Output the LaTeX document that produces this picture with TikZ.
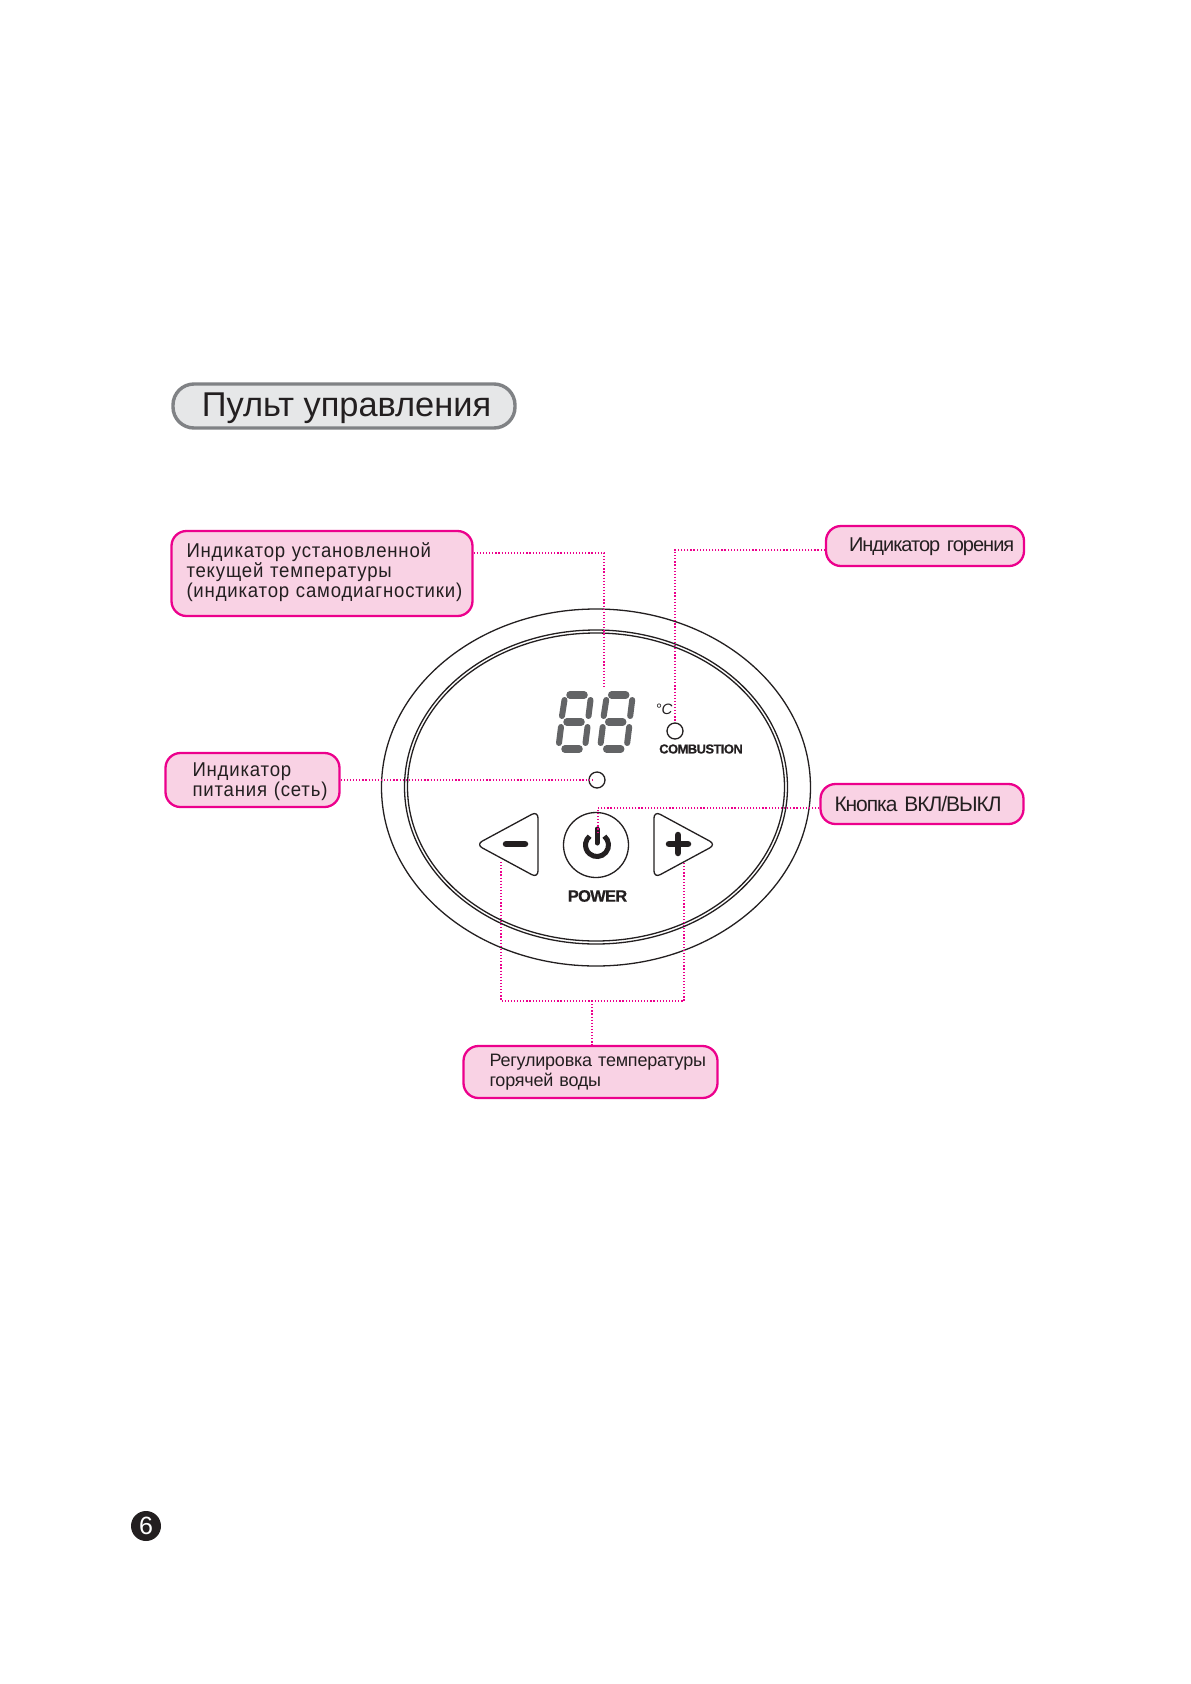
\documentclass[tikz,border=0pt]{standalone}
\usepackage{fontspec}
\setmainfont{Liberation Sans}
\newfontfamily\widelbl[FakeStretch=0.93, LetterSpace=4]{Liberation Sans}
\newfontfamily\tightlbl[LetterSpace=-5]{Liberation Sans}
\newfontfamily\plainlbl[LetterSpace=-1.2]{Liberation Sans}
\newfontfamily\tightbold[LetterSpace=-4.5, FakeBold=0.6]{Liberation Sans Bold}
\definecolor{lblpink}{HTML}{EC008C}
\definecolor{lblfill}{HTML}{F9D2E4}
\definecolor{ink}{HTML}{231F20}
\definecolor{segment}{HTML}{636466}
\definecolor{titlefill}{HTML}{E6E7E8}
\definecolor{titleline}{HTML}{808285}
\tikzset{
  lblbox/.style={draw=lblpink, fill=lblfill, line width=2.3pt, rounded corners=15pt,
    inner xsep=0pt, inner ysep=0pt, align=left, text=ink},
  padl/.style={execute at begin node={\leftskip=#1pt\relax}},
  leader/.style={draw=lblpink, line width=1.5pt, dash pattern=on 1.2pt off 1.9pt},
  led/.style={circle, draw=ink, line width=1.3pt, minimum size=16pt, inner sep=0pt},
  keytri/.style={draw=ink, line width=1.3pt, rounded corners=7pt, line join=round},
  keysign/.style={draw=ink, line width=6.5pt, line cap=round},
  dial/.style={draw=ink, line width=1.3pt},
  hseg/.style={draw=segment, line width=7.5pt, line cap=round},
  vseg/.style={draw=segment, line width=6pt, line cap=round}
}
\begin{document}
\begin{tikzpicture}[x=1pt, y=-1pt]
\useasboundingbox (0,0) rectangle (1191,1684);
\fill[white] (0,0) rectangle (1191,1684);

% Title
\node (title) at (344,406) [draw=titleline, fill=titlefill, line width=3.4pt, rounded corners=21pt,
  minimum width=342pt, minimum height=44pt, inner sep=0pt, text=ink, text height=24pt, text depth=4pt,
  font=\fontsize{34.4}{34.4}\selectfont] {\hspace*{5pt}Пульт управления};

% Panel outline
\draw[dial] (596,787.5) ellipse [x radius=214.5, y radius=178.5];
\draw[dial] (596,787) ellipse [x radius=191.5, y radius=157];
\draw[dial] (596,787) ellipse [x radius=188.5, y radius=154];

% Display: two digits, seven segments each
\foreach \dx in {0,41.7}{
  \foreach \xa/\xb/\y in {570/584/695, 567/581/722, 565/579/749}{
    \draw[hseg] (\xa+\dx,\y) -- (\xb+\dx,\y);
  }
  \foreach \xa/\ya/\xb/\yb in {
    564.5/700/562/716, 590.5/700/588.5/716,
    561/727/559/743, 587.5/727/585.5/743
  }{
    \draw[vseg] (\xa+\dx,\ya) -- (\xb+\dx,\yb);
  }
}
\coordinate (dispTop) at (604,688);

% Indicators
\node (degC) at (664,709) [text=ink, font=\fontsize{15}{15}\selectfont\itshape] {°C};
\node[led] (burnLed) at (675,731) {};
\node (burnText) at (701,749) [text=ink, font=\fontsize{13}{13}\selectfont\tightbold] {COMBUSTION};
\node[led] (mainsLed) at (597,780) {};
\coordinate (mainsEnd) at (592,780);

% Keys
\node[led, minimum size=65pt] (powerKey) at (596,845) {};
\draw[draw=ink, line width=5pt] (604.4,836.2) arc [start angle=-50, end angle=230, radius=11.5];
\draw[draw=ink, line width=5pt, line cap=round] (597,829) -- (597,843);
\coordinate (powerEnd) at (598,832);
\node (powerText) at (597.5,896) [text=ink, font=\fontsize{16.5}{16.5}\selectfont\tightbold] {POWER};

\draw[keytri] (476,844.5) -- (538,811) -- (538,878) -- cycle;
\draw[keysign] (506,844) -- (525,844);
\coordinate (minusEnd) at (501,862);

\draw[keytri] (716,844.5) -- (654,811) -- (654,878) -- cycle;
\draw[keysign] (669,844) -- (688,844);
\draw[keysign] (678,835) -- (678,853);
\coordinate (plusEnd) at (684,862);

% Callout boxes
\node[lblbox, padl=15, text width=301pt, minimum height=85pt, text height=14pt, text depth=47pt,
  font=\fontsize{20}{20}\selectfont\widelbl] (lblTemp) at (322,573.5)
  {Индикатор установленной\\текущей температуры\\(индикатор самодиагностики)};
\node[lblbox, padl=23, text width=198pt, minimum height=40pt, text height=14pt, text depth=3pt,
  font=\fontsize{20}{20}\selectfont\tightlbl] (lblBurn) at (925,546)
  {Индикатор горения};
\node[lblbox, padl=27, text width=174pt, minimum height=54pt, text height=14pt, text depth=21.4pt,
  font=\fontsize{20}{20}\selectfont\widelbl] (lblMains) at (252.5,780)
  {Индикатор\\питания (сеть)};
\node[lblbox, padl=14, text width=203pt, minimum height=40pt, font=\fontsize{21}{21}\selectfont\tightlbl] (lblPower) at (922,804)
  {Кнопка ВКЛ/ВЫКЛ};
\node[lblbox, padl=26, text width=254pt, minimum height=52pt, font=\fontsize{18}{19.5}\selectfont\plainlbl] (lblAdjust) at (590.5,1072)
  {Регулировка температуры\\горячей воды};

% Leaders
\coordinate (tempBend) at (604,553);
\draw[leader] (lblTemp.east |- tempBend) -- (tempBend) -- (dispTop);
\coordinate (burnBend) at (675,550);
\draw[leader] (lblBurn.west |- burnBend) -- (burnBend) -- (burnLed.north);
\draw[leader] (lblMains.east) -- (mainsEnd);
\coordinate (powerBend) at (598,808);
\draw[leader] (lblPower.west |- powerBend) -- (powerBend) -- (powerEnd);
\coordinate (minusBend) at (501,1001);
\coordinate (plusBend) at (684,1001);
\draw[leader] (minusEnd) -- (minusBend) -- (plusBend) -- (plusEnd);
\coordinate (adjustJoin) at (592,1001);
\draw[leader] (adjustJoin) -- (lblAdjust.north -| adjustJoin);

% Page number
\node (pageNo) at (146,1526) [circle, fill=ink, minimum size=30pt, inner sep=0pt, text=white,
  font=\fontsize{25}{25}\selectfont] {6};
\end{tikzpicture}
\end{document}
